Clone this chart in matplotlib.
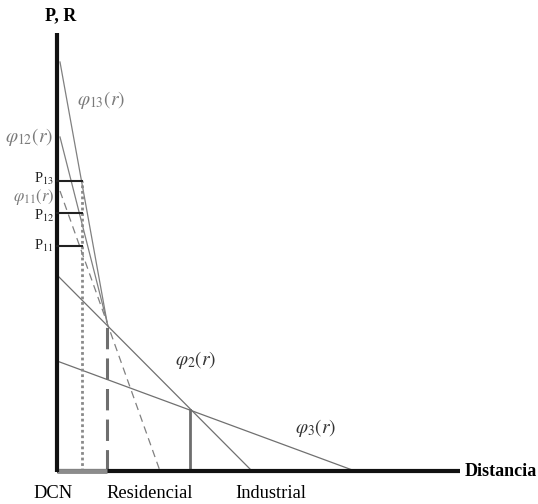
import matplotlib.pyplot as plt

# Curvas de renta (intercepto en r=0, punto final)
phi13 = ([0.3, 5.0], [40.9, 14.9])
phi12 = ([0.3, 5.0], [33.4, 14.9])
phi11 = ([0.3, 10.3], [28.0, 0])
phi2 = ([0, 19.5], [19.6, 0])
phi3 = ([0, 29.8], [11.0, 0])

# Precios marcados en el eje
p_levels = [29.0, 25.8, 22.5]
p_names = ["P$_{13}$", "P$_{12}$", "P$_{11}$"]
p_label_shift = [0.25, -0.25, 0.0]
r_dotted = 2.5
r_dashed = 5.0
r_solid = 13.3
p_solid = 6.1

plt.rcParams["mathtext.fontset"] = "stix"
serif = "Liberation Serif"

fig = plt.figure(figsize=(5.38, 5.04), dpi=100)
ax = fig.add_axes([0, 0, 1, 1])
ax.set_xlim(-5.7, 48.1)
ax.set_ylim(-3.3, 47.1)
ax.axis("off")

gray = "#808080"
ax.plot(*phi13, color=gray, lw=0.9)
ax.plot(*phi12, color=gray, lw=0.9)
ax.plot(*phi11, color=gray, lw=0.9, ls=(0, (6, 4)))
ax.plot(*phi2, color="#707070", lw=0.9)
ax.plot(*phi3, color="#707070", lw=0.9)

# verticales
ax.plot([r_dotted, r_dotted], [0, p_levels[0]], color="#8a8a8a", lw=2, ls=(0, (1, 1)))
ax.plot([r_dashed, r_dashed], [0, 14.9], color="#6e6e6e", lw=2.2, ls=(0, (7, 3)))
ax.plot([r_solid, r_solid], [0, p_solid], color="#6e6e6e", lw=2)

# ejes
ax.plot([0, 40.3], [0, 0], color="#111111", lw=3, solid_capstyle="butt")
ax.plot([0, r_dashed], [0, 0], color="#8c8c8c", lw=3.5, solid_capstyle="butt")
ax.plot([0, 0], [-0.1, 43.8], color="#111111", lw=3, solid_capstyle="butt")

for p, name, dp in zip(p_levels, p_names, p_label_shift):
    ax.plot([0, r_dotted], [p, p], color="#222222", lw=1.5)
    ax.text(-0.3, p + dp, name, ha="right", va="center", fontsize=10.5,
            family=serif, color="#222222")

ax.text(0.4, 45.5, "P, R", fontsize=13, fontweight="bold", family=serif,
        ha="center", va="center")
ax.text(40.8, -0.1, "Distancia", fontsize=13, fontweight="bold", family=serif,
        ha="left", va="center")
ax.text(-0.4, -2.3, "DCN", fontsize=13.3, family=serif, ha="center", va="center")
ax.text(9.3, -2.3, "Residencial", fontsize=13.3, family=serif, ha="center", va="center")
ax.text(21.4, -2.3, "Industrial", fontsize=13.3, family=serif, ha="center", va="center")

ax.text(2.0, 37.1, r"$\varphi_{13}(r)$", fontsize=14, color="#7a7a7a", ha="left", va="center")
ax.text(-0.4, 33.4, r"$\varphi_{12}(r)$", fontsize=14, color="#7a7a7a", ha="right", va="center")
ax.text(-0.2, 27.4, r"$\varphi_{11}(r)$", fontsize=12, color="#7a7a7a", ha="right", va="center")
ax.text(11.8, 11.1, r"$\varphi_{2}(r)$", fontsize=14, color="#333333", ha="left", va="center")
ax.text(23.8, 4.3, r"$\varphi_{3}(r)$", fontsize=14, color="#333333", ha="left", va="center")

fig.savefig("out.png", dpi=100)
